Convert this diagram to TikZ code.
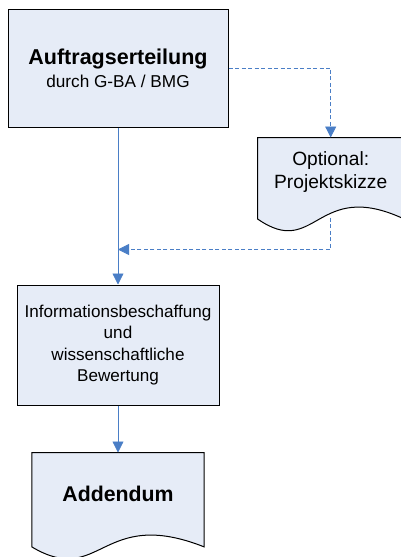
\documentclass[tikz,border=0pt]{standalone}
\usepackage{fontspec}
\setmainfont{Liberation Sans}
\usetikzlibrary{positioning,arrows.meta,calc,shadows,backgrounds}

\definecolor{boxfill}{HTML}{E6ECF7}
\definecolor{flowblue}{HTML}{4A7EC6}

% document outline with a wavy bottom edge
\newcommand{\docshape}[1]{%
  \path[doc line] (#1.north west) -- ([yshift=-12pt]#1.south west)
    .. controls ($([yshift=-12pt]#1.south west)!0.4!([yshift=-12pt]#1.south east)+(0,-41pt)$)
    and ($([yshift=-12pt]#1.south west)!0.4!([yshift=-12pt]#1.south east)+(0,41pt)$)
    .. ([yshift=-12pt]#1.south east) -- (#1.north east) -- cycle;}

\begin{document}
\begin{tikzpicture}[node distance=2cm,
    box node/.style={rectangle,draw=black,line width=1pt,fill=boxfill,align=center,inner sep=0pt},
    doc node/.style={rectangle,draw=none,align=center,inner sep=0pt},
    doc line/.style={draw=black,line width=1pt,fill=boxfill},
    flow/.style={draw=flowblue,line width=0.8pt,-{Triangle[length=11pt,width=11pt]}},
    optflow/.style={flow,dash pattern=on 4pt off 2.5pt}]

  \useasboundingbox (0,0) rectangle (401pt,-557pt);

  \node[box node,minimum width=220pt,minimum height=118pt,
        drop shadow={shadow xshift=1.3pt,shadow yshift=-1.3pt,fill=gray,opacity=1},
        font=\fontsize{17.2}{23}\selectfont] (auftrag) at (118pt,-68pt)
        {{\fontsize{21.5}{24}\selectfont\bfseries Auftragserteilung}\\durch G-BA / BMG};
  \node[doc node,minimum width=146pt,minimum height=69pt,anchor=north west,
        font=\fontsize{19.2}{23}\selectfont] (skizze) [below right=10pt and 29pt of auftrag.south east]
        {Optional:\\Projektskizze};
  \node[box node,minimum width=202pt,minimum height=120pt,
        font=\fontsize{17.1}{21.5}\selectfont] (info) [below=157pt of auftrag]
        {Informationsbeschaffung\\und\\wissenschaftliche\\Bewertung};
  \node[doc node,minimum width=172pt,minimum height=82pt,
        font=\fontsize{21.3}{26}\selectfont\bfseries] (addendum) [below=47pt of info]
        {Addendum};

  \begin{scope}[on background layer]
    \docshape{skizze}
    \docshape{addendum}
  \end{scope}

  \coordinate (merge) at ([yshift=-122pt]auftrag.south);

  \draw[flow] (auftrag.south) -- (auftrag.south |- info.north);
  \draw[optflow] (auftrag.east) -| (skizze.north);
  \draw[optflow] ([yshift=-11pt]skizze.south) |- (merge);
  \draw[flow] (info.south) -- (info.south |- addendum.north);

\end{tikzpicture}
\end{document}
